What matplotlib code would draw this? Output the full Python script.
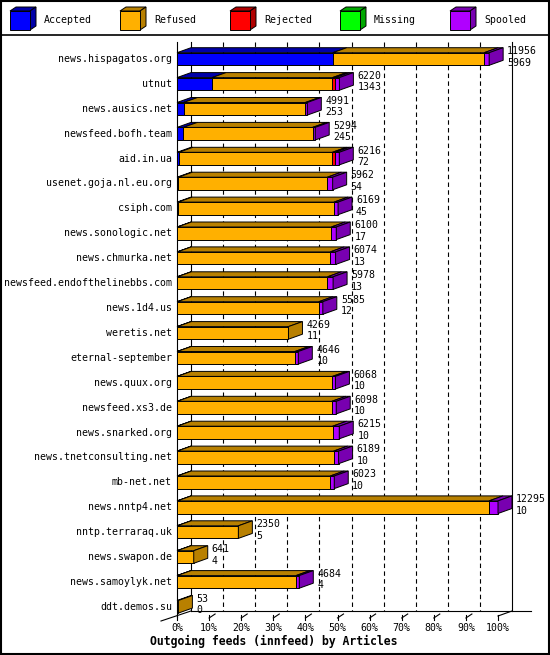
"""Outgoing feeds (innfeed) by articles, innreport style 3D stacked bars."""

import matplotlib.pyplot as plt
from matplotlib.patches import Polygon, Rectangle

feeds = [
    "news.hispagatos.org", "utnut", "news.ausics.net", "newsfeed.bofh.team",
    "aid.in.ua", "usenet.goja.nl.eu.org", "csiph.com", "news.sonologic.net",
    "news.chmurka.net", "newsfeed.endofthelinebbs.com", "news.1d4.us",
    "weretis.net", "eternal-september", "news.quux.org", "newsfeed.xs3.de",
    "news.snarked.org", "news.tnetconsulting.net", "mb-net.net",
    "news.nntp4.net", "nntp.terraraq.uk", "news.swapon.de",
    "news.samoylyk.net", "ddt.demos.su",
]
offered = [11956, 6220, 4991, 5294, 6216, 5962, 6169, 6100, 6074, 5978, 5585,
           4269, 4646, 6068, 6098, 6215, 6189, 6023, 12295, 2350, 641, 4684, 53]
accepted = [5969, 1343, 253, 245, 72, 54, 45, 17, 13, 13, 12,
            11, 10, 10, 10, 10, 10, 10, 10, 5, 4, 4, 0]
rejected = [0, 115, 0, 0, 115, 0, 0, 0, 0, 0, 0,
            0, 0, 0, 0, 0, 0, 0, 0, 0, 0, 0, 0]
missing = [0] * len(feeds)
spooled = [190, 150, 75, 100, 150, 205, 153, 190, 205, 215, 153,
           0, 128, 115, 166, 255, 190, 153, 345, 0, 0, 128, 0]
refused = [o - a - r - m - s for o, a, r, m, s
           in zip(offered, accepted, rejected, missing, spooled)]

series = ["Accepted", "Refused", "Rejected", "Missing", "Spooled"]
front_colors = ["#0000ff", "#ffb000", "#ff0000", "#00ff00", "#b000ff"]
side_colors = ["#0000a8", "#b88000", "#b00000", "#00a800", "#7800b0"]
pct_ticks = list(range(0, 101, 10))

plt.rcParams["font.family"] = "DejaVu Sans Mono"
FS = 7.1

W, H = 550, 655
fig = plt.figure(figsize=(W / 100, H / 100), dpi=100)

# page layer in pixel units: border, legend, title
page = fig.add_axes([0, 0, 1, 1])
page.set_xlim(0, W)
page.set_ylim(H, 0)
page.axis("off")
page.add_patch(Rectangle((0.5, 0.5), W - 1.5, H - 1.5, fill=False,
                         ec="black", lw=1.5))
page.plot([0, W], [35, 35], color="black", lw=1.2)

for k, name in enumerate(series):
    lx = 10 + k * 110
    page.add_patch(Polygon([(lx, 11), (lx + 20, 11), (lx + 26, 7), (lx + 6, 7)],
                           fc=side_colors[k], ec="black", lw=0.7))
    page.add_patch(Polygon([(lx + 20, 11), (lx + 26, 7), (lx + 26, 26), (lx + 20, 30)],
                           fc=side_colors[k], ec="black", lw=0.7))
    page.add_patch(Rectangle((lx, 11), 20, 19, fc=front_colors[k],
                             ec="black", lw=0.7))
    page.text(lx + 34, 20, name, fontsize=FS, va="center", ha="left")

page.text(150, 641, "Outgoing feeds (innfeed) by Articles", fontsize=8.3,
          fontweight="bold", va="center", ha="left")

# chart layer: x in articles, y in row index
X0, X1, TOP, BOT = 177, 498, 42, 616
ROW0, ROW_H = 59, 24.9
ax = fig.add_axes([X0 / W, 1 - BOT / H, (X1 - X0) / W, (BOT - TOP) / H])
xmax = max(offered)
ax.set_xlim(0, xmax)
ax.set_ylim((BOT - ROW0) / ROW_H, (TOP - ROW0) / ROW_H)
ax.axis("off")

sx = xmax / (X1 - X0)
sy = 1 / ROW_H
DX, DY = 14 * sx, 5 * sy
half = 6.3 * sy


def ypx(p):
    return (p - ROW0) / ROW_H


floor = ypx(611)
kw = dict(color="black", lw=0.8, clip_on=False, zorder=1)
for p in pct_ticks[1:-1]:
    xg = xmax * p / 100 + DX
    ax.plot([xg, xg], [ypx(TOP), floor], ls=(0, (4, 3)), **kw)
ax.plot([DX, DX], [ypx(TOP), floor], **kw)
ax.plot([xmax + DX, xmax + DX], [ypx(TOP), floor], **kw)
ax.plot([0, 0], [ypx(TOP), ypx(617)], **kw)
ax.plot([DX, xmax + DX + 19 * sx], [floor, floor], **kw)
ax.plot([-16 * sx, DX], [ypx(621), floor], **kw)
ax.plot([xmax, xmax + DX], [ypx(616), floor], **kw)
for p in pct_ticks:
    xf = xmax * p / 100
    ax.plot([xf, xf], [ypx(615), ypx(620)], **kw)
    if 0 < p < 100:
        ax.plot([xf, xf + 6 * sx], [ypx(618), ypx(614)], **kw)
    ax.text(xf, ypx(628), f"{p}%", fontsize=FS, ha="center", va="center")

segments = [accepted, refused, rejected, missing, spooled]
for i, feed in enumerate(feeds):
    top, bot = i - half, i + half
    left = 0
    last = 0
    for k, seg in enumerate(segments):
        v = seg[i]
        if v <= 0:
            continue
        ax.add_patch(Polygon([(left, top), (left + v, top),
                              (left + v + DX, top - DY), (left + DX, top - DY)],
                             fc=side_colors[k], ec="black", lw=0.7,
                             clip_on=False, zorder=3))
        ax.add_patch(Rectangle((left, top), v, bot - top, fc=front_colors[k],
                               ec="black", lw=0.7, clip_on=False, zorder=3))
        left += v
        last = k
    ax.add_patch(Polygon([(left, top), (left + DX, top - DY),
                          (left + DX, bot - DY), (left, bot)],
                         fc=side_colors[last], ec="black", lw=0.7,
                         clip_on=False, zorder=3))
    tx = left + DX + 4 * sx
    ax.text(tx, i - 8 * sy, str(offered[i]), fontsize=FS, va="center",
            ha="left", zorder=4)
    ax.text(tx, i + 3.5 * sy, str(accepted[i]), fontsize=FS, va="center",
            ha="left", zorder=4)
    ax.text(-5 * sx, i, feed, fontsize=FS, va="center", ha="right")

fig.savefig("out.png", dpi=100)
